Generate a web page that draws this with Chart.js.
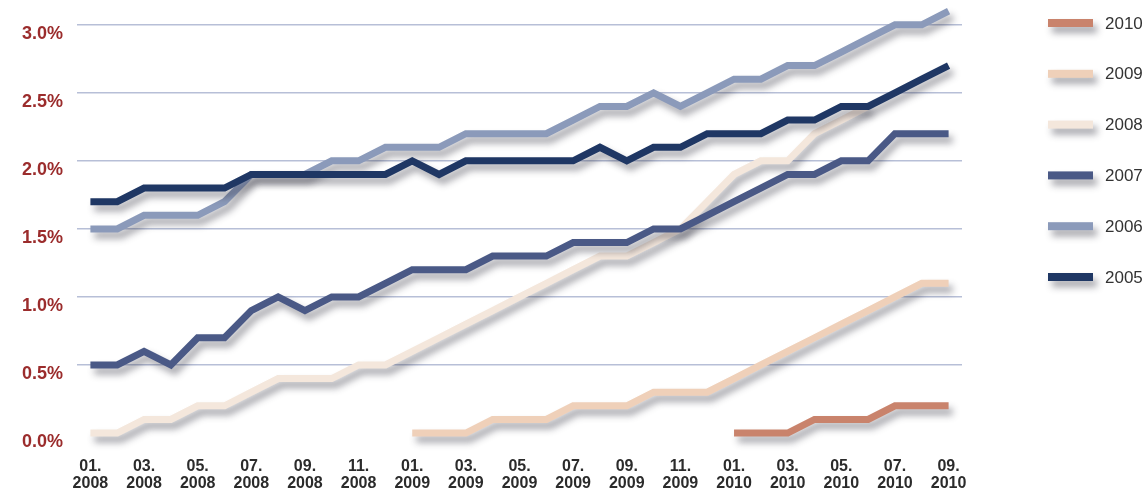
<!DOCTYPE html>
<html>
<head>
<meta charset="utf-8">
<script src="https://cdn.jsdelivr.net/npm/chart.js@4"></script>
<style>
  html, body { margin: 0; padding: 0; background: #fff; }
  #wrap { width: 1147px; height: 490px; position: relative; }
</style>
</head>
<body>
<div id="wrap"><canvas id="chart"></canvas></div>
<script>
// monthly values, 01.2008 - 09.2010
const months = [
  '01.2008', '02.2008', '03.2008', '04.2008', '05.2008', '06.2008', '07.2008', '08.2008',
  '09.2008', '10.2008', '11.2008', '12.2008', '01.2009', '02.2009', '03.2009', '04.2009',
  '05.2009', '06.2009', '07.2009', '08.2009', '09.2009', '10.2009', '11.2009', '12.2009',
  '01.2010', '02.2010', '03.2010', '04.2010', '05.2010', '06.2010', '07.2010', '08.2010',
  '09.2010'
];

const yTicks = [0, 0.5, 1.0, 1.5, 2.0, 2.5, 3.0];

const s2005 = [1.7, 1.7, 1.8, 1.8, 1.8, 1.8, 1.9, 1.9, 1.9, 1.9, 1.9, 1.9, 2.0, 1.9, 2.0, 2.0,
  2.0, 2.0, 2.0, 2.1, 2.0, 2.1, 2.1, 2.2, 2.2, 2.2, 2.3, 2.3, 2.4, 2.4, 2.5, 2.6, 2.7];
const s2006 = [1.5, 1.5, 1.6, 1.6, 1.6, 1.7, 1.9, 1.9, 1.9, 2.0, 2.0, 2.1, 2.1, 2.1, 2.2, 2.2,
  2.2, 2.2, 2.3, 2.4, 2.4, 2.5, 2.4, 2.5, 2.6, 2.6, 2.7, 2.7, 2.8, 2.9, 3.0, 3.0, 3.1];
const s2007 = [0.5, 0.5, 0.6, 0.5, 0.7, 0.7, 0.9, 1.0, 0.9, 1.0, 1.0, 1.1, 1.2, 1.2, 1.2, 1.3,
  1.3, 1.3, 1.4, 1.4, 1.4, 1.5, 1.5, 1.6, 1.7, 1.8, 1.9, 1.9, 2.0, 2.0, 2.2, 2.2, 2.2];
const s2008 = [0.0, 0.0, 0.1, 0.1, 0.2, 0.2, 0.3, 0.4, 0.4, 0.4, 0.5, 0.5, 0.6, 0.7, 0.8, 0.9,
  1.0, 1.1, 1.2, 1.3, 1.3, 1.4, 1.5, 1.7, 1.9, 2.0, 2.0, 2.2, 2.3, 2.4, null, null, null];
const s2009 = [null, null, null, null, null, null, null, null, null, null, null, null,
  0.0, 0.0, 0.0, 0.1, 0.1, 0.1, 0.2, 0.2, 0.2, 0.3, 0.3, 0.3, 0.4, 0.5, 0.6, 0.7, 0.8, 0.9,
  1.0, 1.1, 1.1];
const s2010 = [null, null, null, null, null, null, null, null, null, null, null, null,
  null, null, null, null, null, null, null, null, null, null, null, null,
  0.0, 0.0, 0.0, 0.1, 0.1, 0.1, 0.2, 0.2, 0.2];

// first dataset is drawn on top, so the oldest year goes first
const series = [
  { label: '2005', data: s2005, color: '#1f3764' },
  { label: '2006', data: s2006, color: '#8b9aba' },
  { label: '2007', data: s2007, color: '#4a5986' },
  { label: '2008', data: s2008, color: '#f4e7dc' },
  { label: '2009', data: s2009, color: '#efd0b9' },
  { label: '2010', data: s2010, color: '#c9836c' }
];

const SHADOW = { color: 'rgba(40,40,55,0.42)', blur: 7, dx: 4, dy: 6 };

function setShadow(ctx) {
  ctx.shadowColor = SHADOW.color;
  ctx.shadowBlur = SHADOW.blur;
  ctx.shadowOffsetX = SHADOW.dx;
  ctx.shadowOffsetY = SHADOW.dy;
}

// soft drop shadow under every line
const lineShadow = {
  id: 'lineShadow',
  beforeDatasetsDraw(chart) {
    chart.ctx.save();
    setShadow(chart.ctx);
  },
  afterDatasetsDraw(chart) {
    chart.ctx.restore();
  }
};

// legend on the right, newest year at the top
const sideLegend = {
  id: 'sideLegend',
  afterDraw(chart, args, opts) {
    const ctx = chart.ctx;
    const items = chart.data.datasets.slice().reverse();
    items.forEach((ds, k) => {
      const y = opts.top + k * opts.step;
      ctx.save();
      setShadow(ctx);
      ctx.fillStyle = ds.borderColor;
      ctx.fillRect(opts.left, y - 4, 45, 8);
      ctx.restore();
      ctx.save();
      ctx.font = '17px "Liberation Sans", Arial, sans-serif';
      ctx.fillStyle = '#333333';
      ctx.textBaseline = 'middle';
      ctx.fillText(ds.label, opts.left + 57, y + 1);
      ctx.restore();
    });
  }
};

const ctx = document.getElementById('chart').getContext('2d');
new Chart(ctx, {
  type: 'line',
  data: {
    labels: months,
    datasets: series.map(s => ({
      label: s.label,
      data: s.data,
      borderColor: s.color,
      backgroundColor: s.color,
      borderWidth: 7,
      borderJoinStyle: 'miter',
      borderCapStyle: 'butt',
      pointRadius: 0,
      tension: 0,
      fill: false,
      clip: false
    }))
  },
  options: {
    responsive: true,
    maintainAspectRatio: false,
    animation: false,
    layout: { padding: { top: 22, right: 185, left: 0, bottom: 0 } },
    plugins: {
      legend: { display: false },
      tooltip: { enabled: false },
      sideLegend: { left: 1048, top: 23, step: 50.8 }
    },
    scales: {
      x: {
        type: 'category',
        offset: true,
        grid: { display: false },
        border: { display: false },
        ticks: {
          autoSkip: false,
          maxRotation: 0,
          padding: 17,
          color: '#2b2b2b',
          font: { family: '"Liberation Sans", Arial, sans-serif', size: 16, weight: 'bold', lineHeight: 1.05 },
          callback(v, i) {
            if (i % 2) return '';
            const m = months[i];
            return [m.slice(0, 3), m.slice(3)];
          }
        },
        afterFit(s) { s.height = 57; }
      },
      y: {
        min: 0,
        max: 3,
        border: { display: false },
        grid: {
          drawTicks: false,
          lineWidth: 1.5,
          color: c => (c.tick && c.tick.value === 0 ? 'rgba(0,0,0,0)' : '#b7bfd7')
        },
        afterBuildTicks(s) { s.ticks = yTicks.map(v => ({ value: v })); },
        ticks: {
          padding: 14,
          labelOffset: 9,
          color: '#9b2c2c',
          font: { family: '"Liberation Sans", Arial, sans-serif', size: 18, weight: 'bold' },
          callback: v => v.toFixed(1) + '%'
        },
        afterFit(s) { s.width = 77; }
      }
    }
  },
  plugins: [lineShadow, sideLegend]
});
</script>
</body>
</html>
